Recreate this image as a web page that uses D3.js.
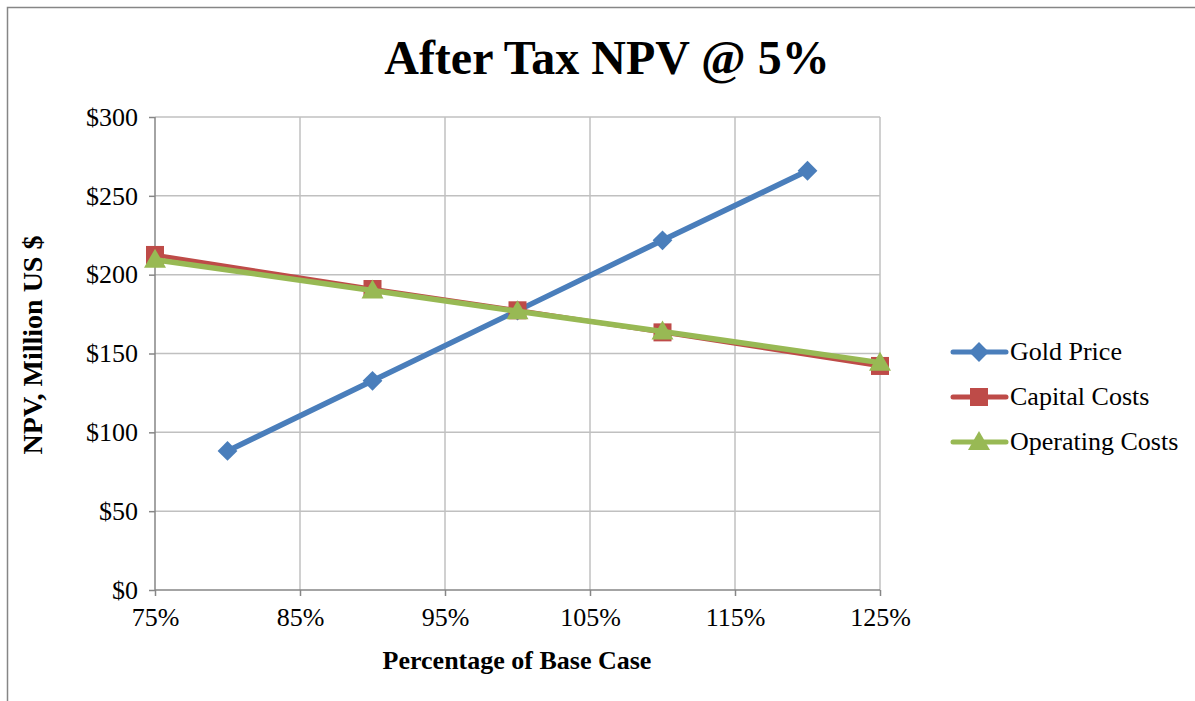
<!DOCTYPE html>
<html><head><meta charset="utf-8">
<script src="https://cdn.jsdelivr.net/npm/d3@7"></script>
<style>body{margin:0;background:#fff}svg{display:block}</style>
</head><body>
<svg id="c" width="1195" height="701"></svg>
<script>
const xTicks = [75, 85, 95, 105, 115, 125];
const yTicks = [0, 50, 100, 150, 200, 250, 300];
const goldX = [80, 90, 100, 110, 120];
const goldY = [88.2, 132.7, 177.2, 221.8, 265.9];
const capX = [75, 90, 100, 110, 125];
const capY = [212.5, 190.9, 177.4, 163.4, 142.1];
const opX = [75, 90, 100, 110, 125];
const opY = [209.5, 190.0, 176.8, 164.0, 144.2];
const seriesNames = ["Gold Price", "Capital Costs", "Operating Costs"];
const colors = ["#4a7ebb", "#be4b48", "#98b954"];

const svg = d3.select("#c");
const font = "'Liberation Serif','Times New Roman',serif";
svg.append("rect").attr("x",7.5).attr("y",7.5).attr("width",1300).attr("height",800)
  .attr("fill","#fff").attr("stroke","#868686").attr("stroke-width",1.5);

const x = d3.scaleLinear().domain([75,125]).range([155,880]);
const y = d3.scaleLinear().domain([0,300]).range([590,117]);

// gridlines
svg.append("g").selectAll("line").data(yTicks.filter(d=>d>0)).join("line")
  .attr("x1",x(75)).attr("x2",x(125)).attr("y1",d=>y(d)).attr("y2",d=>y(d))
  .attr("stroke","#c0c0c0").attr("stroke-width",1.5);
svg.append("g").selectAll("line").data(xTicks.filter(d=>d>75)).join("line")
  .attr("x1",d=>x(d)).attr("x2",d=>x(d)).attr("y1",y(0)).attr("y2",y(300))
  .attr("stroke","#c0c0c0").attr("stroke-width",1.5);

// axes
const xAxis = svg.append("g").attr("transform",`translate(0,${y(0)})`)
  .call(d3.axisBottom(x).tickValues(xTicks).tickFormat(d=>d+"%").tickSize(6).tickPadding(12));
const yAxis = svg.append("g").attr("transform",`translate(${x(75)},0)`)
  .call(d3.axisLeft(y).tickValues(yTicks).tickFormat(d=>"$"+d).tickSize(6).tickPadding(11));
[xAxis,yAxis].forEach(a=>{
  a.selectAll("path,line").attr("stroke","#868686").attr("stroke-width",1.5);
  a.selectAll("text").attr("font-family",font).attr("font-size",26).attr("fill","#000");
  a.select(".domain").attr("d", a===xAxis ? `M${x(75)},0H${x(125)}` : `M0,${y(0)}V${y(300)}`);
});

// markers
function marker(sel, i) {
  if (i === 0) {
    sel.append("rect").attr("x",-7).attr("y",-7).attr("width",14).attr("height",14)
      .attr("transform","rotate(45)").attr("fill",colors[i]);
  } else if (i === 1) {
    sel.append("rect").attr("x",-9).attr("y",-9).attr("width",18).attr("height",18).attr("fill",colors[i]);
  } else {
    sel.append("path").attr("d","M0,-11L11,8L-11,8Z").attr("fill",colors[i]);
  }
}

// series
const data = [
  goldX.map((v,i)=>[v,goldY[i]]),
  capX.map((v,i)=>[v,capY[i]]),
  opX.map((v,i)=>[v,opY[i]])
];
const line = d3.line().x(d=>x(d[0])).y(d=>y(d[1]));
data.forEach((s,i)=>{
  svg.append("path").datum(s).attr("d",line).attr("fill","none")
    .attr("stroke",colors[i]).attr("stroke-width",i===1?4.5:5.5).attr("stroke-linejoin","round");
  svg.append("g").selectAll("g").data(s).join("g")
    .attr("transform",d=>`translate(${x(d[0])},${y(d[1])})`)
    .each(function(){ marker(d3.select(this), i); });
});

// legend
seriesNames.forEach((n,i)=>{
  const ly = 352 + i*45;
  const g = svg.append("g");
  g.append("line").attr("x1",953).attr("x2",1006).attr("y1",ly).attr("y2",ly)
    .attr("stroke",colors[i]).attr("stroke-width",5).attr("stroke-linecap","round");
  marker(g.append("g").attr("transform",`translate(979,${ly})`), i);
  g.append("text").attr("x",1010).attr("y",ly+8).text(n)
    .attr("font-family",font).attr("font-size",26).attr("fill","#000");
});

// titles
svg.append("text").attr("x",607).attr("y",74).attr("text-anchor","middle")
  .attr("font-family",font).attr("font-weight","bold").attr("font-size",48).text("After Tax NPV @ 5%");
svg.append("text").attr("x",517).attr("y",669).attr("text-anchor","middle")
  .attr("font-family",font).attr("font-weight","bold").attr("font-size",26).text("Percentage of Base Case");
svg.append("text").attr("transform","translate(42,345) rotate(-90)").attr("text-anchor","middle")
  .attr("font-family",font).attr("font-weight","bold").attr("font-size",28).text("NPV, Million US $");
</script>
</body></html>
